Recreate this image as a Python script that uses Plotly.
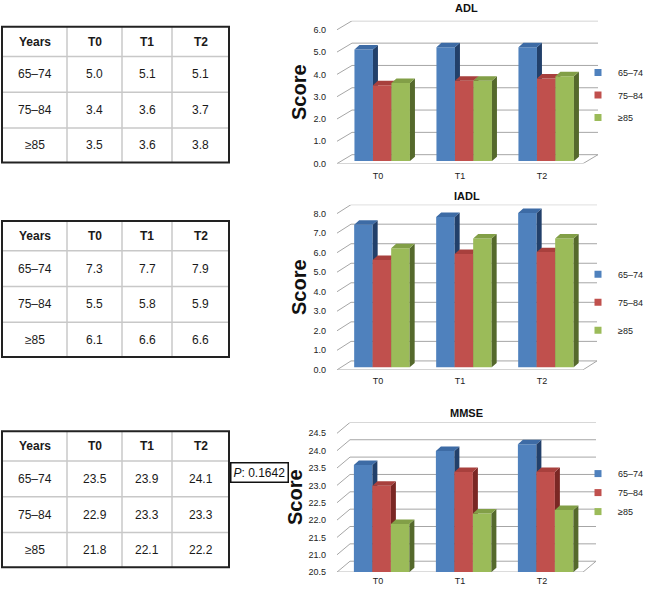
import plotly.graph_objects as go

W, H = 649, 591
FONT = "Liberation Sans, Arial, sans-serif"

# ---------------- data ----------------
ages = ["65–74", "75–84", "≥85"]
times = ["T0", "T1", "T2"]

adl_65_74 = [5.0, 5.1, 5.1]
adl_75_84 = [3.4, 3.6, 3.7]
adl_85 = [3.5, 3.6, 3.8]

iadl_65_74 = [7.3, 7.7, 7.9]
iadl_75_84 = [5.5, 5.8, 5.9]
iadl_85 = [6.1, 6.6, 6.6]

mmse_65_74 = [23.5, 23.9, 24.1]
mmse_75_84 = [22.9, 23.3, 23.3]
mmse_85 = [21.8, 22.1, 22.2]

chart_titles = ["ADL", "IADL", "MMSE"]
axis_min = [0.0, 0.0, 20.5]
axis_max = [6.0, 8.0, 24.5]
axis_step = [1.0, 1.0, 0.5]
table_header = "Years"
p_value = 0.1642

# ---------------- styles / layout geometry (pixels) ----------------
front_colors = ["#4F81BD", "#C0504D", "#9BBB59"]
top_colors = ["#3D6BA5", "#A8403D", "#829F47"]
side_colors = ["#22406A", "#7A2724", "#55692C"]
grid_color = "#A6A6A6"

XL, XR = 337, 583          # front-left / front-right of floor
CAT_PX = (XR - XL) / 3.0
F = 0.28                   # depth position of the bars inside the floor
BAR_PX = 18.5
BAR_DX_PX, BAR_DY_PX = 5, 4.5

geo = [
    dict(y0=165, ppu=22.5, wdx=15, wdy=9, title=8, leg=73, gap=3.5, table=27, standoff=1, xstand=5),
    dict(y0=373, ppu=19.7, wdx=14, wdy=9, title=198, leg=277, gap=9, table=223, standoff=1, xstand=4),
    dict(y0=577, ppu=35.0, wdx=13, wdy=11, title=417, leg=479, gap=0, table=435, standoff=0, xstand=2),
]
values_by_chart = [
    [adl_65_74, adl_75_84, adl_85],
    [iadl_65_74, iadl_75_84, iadl_85],
    [mmse_65_74, mmse_75_84, mmse_85],
]

COL_PX = [2, 67, 122, 172, 229]
ROW_PX = [0, 30, 66, 102, 137]


def px_x(p):
    return p / W


def px_y(p):
    return 1 - p / H


def aid(n):
    return "" if n == 1 else str(n)


fig = go.Figure()
layout = dict(
    width=W, height=H, margin=dict(l=0, r=0, t=0, b=0),
    paper_bgcolor="white", plot_bgcolor="white",
    font=dict(family=FONT, color="#222222"),
    showlegend=True, annotations=[], shapes=[],
)

for c in range(3):
    g = geo[c]
    vals = values_by_chart[c]
    ymin, ymax, step = axis_min[c], axis_max[c], axis_step[c]
    dxu = g["wdx"] / CAT_PX
    dyu = g["wdy"] / g["ppu"]
    ytop_px = g["y0"] - (ymax - ymin) * g["ppu"] - g["wdy"]
    xr = [-0.5, 2.5 + dxu]
    yr = [ymin, ymax + dyu]
    nb = 4 * c + 1
    xb, yb = "x" + aid(nb), "y" + aid(nb)
    ticks = []
    t = ymin
    while t <= ymax + 1e-9:
        ticks.append(round(t, 3))
        t += step

    layout["xaxis" + aid(nb)] = dict(
        domain=[px_x(XL), px_x(XR + g["wdx"])], range=xr, anchor=yb,
        tickvals=[0, 1, 2], ticktext=times, showgrid=False, zeroline=False,
        showline=False, ticks="", ticklabelstandoff=g["xstand"],
        tickfont=dict(size=9, family=FONT, color="#222222"), fixedrange=True,
    )
    layout["yaxis" + aid(nb)] = dict(
        domain=[px_y(g["y0"]), px_y(ytop_px)], range=yr, anchor=xb,
        tickvals=ticks, ticktext=[f"{v:.1f}" for v in ticks],
        showgrid=False, zeroline=False, showline=False, ticks="",
        ticklabelstandoff=10, tickfont=dict(size=9, family=FONT, color="#222222"),
        title=dict(text="<b>Score</b>", font=dict(size=20, family=FONT, color="#111111"),
                   standoff=g["standoff"]),
        fixedrange=True,
    )

    # walls, gridlines and floor
    gx, gy = [], []
    for v in ticks:
        gx += [-0.5, -0.5 + dxu, 2.5 + dxu, None]
        gy += [v, v + dyu, v + dyu, None]
    gx += [-0.5, 2.5, 2.5 + dxu, None]
    gy += [ymin, ymin, ymin + dyu, None]
    fig.add_trace(go.Scatter(x=gx, y=gy, mode="lines", line=dict(color=grid_color, width=1),
                             hoverinfo="skip", showlegend=False, xaxis=xb, yaxis=yb,
                             cliponaxis=False))

    # series (each on its own overlaid axes pair so later series occlude earlier ones)
    w = BAR_PX / CAT_PX
    bdx = BAR_DX_PX / CAT_PX
    bdy = BAR_DY_PX / g["ppu"]
    oxr = [xr[0] - F * dxu, xr[1] - F * dxu]
    oyr = [yr[0] - F * dyu, yr[1] - F * dyu]
    floor_v = max(0.0, oyr[0])
    for k in range(3):
        n = nb + 1 + k
        xs, ys = "x" + aid(n), "y" + aid(n)
        layout["xaxis" + aid(n)] = dict(overlaying=xb, range=oxr, visible=False, fixedrange=True)
        layout["yaxis" + aid(n)] = dict(overlaying=yb, range=oyr, visible=False, fixedrange=True)
        off = (k - 1.5) * w
        fig.add_trace(go.Bar(
            x=[0, 1, 2], y=vals[k], width=w, offset=off, name=ages[k],
            marker=dict(color=front_colors[k], line=dict(width=0)),
            showlegend=False, xaxis=xs, yaxis=ys,
            hovertemplate=chart_titles[c] + " " + ages[k] + " %{x}: %{y:.1f}<extra></extra>",
        ))
        tx, ty, sx, sy = [], [], [], []
        for i, v in enumerate(vals[k]):
            x0 = i + off
            x1 = x0 + w
            tx += [x0, x1, x1 + bdx, x0 + bdx, x0, None]
            ty += [v, v, v + bdy, v + bdy, v, None]
            sx += [x1, x1, x1 + bdx, x1 + bdx, x1, None]
            sy += [floor_v, v, v + bdy, floor_v + bdy, floor_v, None]
        fig.add_trace(go.Scatter(x=sx, y=sy, mode="lines", fill="toself",
                                 fillcolor=side_colors[k], line=dict(width=0, color=side_colors[k]),
                                 hoverinfo="skip", showlegend=False, xaxis=xs, yaxis=ys))
        fig.add_trace(go.Scatter(x=tx, y=ty, mode="lines", fill="toself",
                                 fillcolor=top_colors[k], line=dict(width=0, color=top_colors[k]),
                                 hoverinfo="skip", showlegend=False, xaxis=xs, yaxis=ys))

    # legend
    lg = "legend" + aid(c + 1)
    for k in range(3):
        fig.add_trace(go.Scatter(
            x=[None], y=[None], mode="markers", name=ages[k],
            marker=dict(symbol="square", size=7, color=front_colors[k]),
            legend=lg, legendgroup=f"{lg}_{k}", showlegend=True, xaxis=xb, yaxis=yb,
        ))
    layout[lg] = dict(
        x=1.0, xanchor="right", y=px_y(g["leg"] - 16 + (1.5 if c == 0 else (1 if c == 1 else 0))),
        yanchor="top",
        bgcolor="rgba(0,0,0,0)", font=dict(size=9, family=FONT, color="#222222"),
        tracegroupgap=g["gap"], itemclick=False, itemdoubleclick=False,
        indentation=-15,
    )

    # chart title
    layout["annotations"].append(dict(
        text="<b>" + chart_titles[c] + "</b>", x=px_x(467), y=px_y(g["title"]),
        xref="paper", yref="paper", showarrow=False, xanchor="center", yanchor="middle",
        font=dict(size=11, family=FONT, color="#111111"),
    ))

    # table (grid lines + cell texts)
    ttop = g["table"]
    rows_px = [ttop + r for r in ROW_PX]
    for r in rows_px[1:-1]:
        layout["shapes"].append(dict(
            type="line", xref="paper", yref="paper", x0=px_x(COL_PX[0]), x1=px_x(COL_PX[-1]),
            y0=px_y(r), y1=px_y(r), line=dict(color="#C8C8C8", width=1.5)))
    for cx in COL_PX[1:-1]:
        layout["shapes"].append(dict(
            type="line", xref="paper", yref="paper", x0=px_x(cx), x1=px_x(cx),
            y0=px_y(rows_px[0]), y1=px_y(rows_px[-1]), line=dict(color="#C8C8C8", width=1.5)))
    layout["shapes"].append(dict(
        type="rect", xref="paper", yref="paper",
        x0=px_x(COL_PX[0]), x1=px_x(COL_PX[-1]), y0=px_y(rows_px[-1]), y1=px_y(rows_px[0]),
        line=dict(color="#222222", width=2), fillcolor="rgba(0,0,0,0)",
    ))
    header_cells = [table_header] + times
    body_rows = [[ages[k]] + [f"{v:.1f}" for v in vals[k]] for k in range(3)]
    all_rows = [["<b>" + h + "</b>" for h in header_cells]] + body_rows
    for r, row in enumerate(all_rows):
        yc = (rows_px[r] + rows_px[r + 1]) / 2
        for j, txt in enumerate(row):
            xc = (COL_PX[j] + COL_PX[j + 1]) / 2
            layout["annotations"].append(dict(
                text=txt, x=px_x(xc), y=px_y(yc), xref="paper", yref="paper",
                showarrow=False, xanchor="center", yanchor="middle",
                font=dict(size=12, family=FONT, color="#1A1A1A"),
            ))

# P value box
layout["annotations"].append(dict(
    text=f"<i>P</i>: {p_value}", x=px_x(259), y=px_y(477), xref="paper", yref="paper",
    showarrow=False, xanchor="center", yanchor="middle",
    font=dict(size=12, family=FONT, color="#111111"),
    bordercolor="#111111", borderwidth=1.5, borderpad=2, bgcolor="white",
))

fig.update_layout(**layout)
fig.write_html(
    "out.html",
    config={"displayModeBar": False},
    post_script=(
        "var h=document.documentElement.style;h.margin='0';h.padding='0';"
        "h.overflow='hidden';h.height='591px';"
        "var b=document.body.style;b.margin='0';b.padding='0';"
        "b.overflow='hidden';b.height='591px';"
    ),
)
